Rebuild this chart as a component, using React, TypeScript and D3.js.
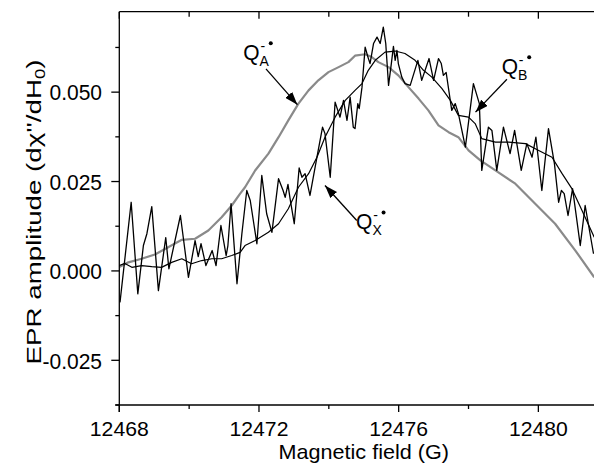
import React from 'react';
import * as d3 from 'd3';

// ---- data ----
const grayField = [12468.00,12468.26,12468.64,12469.02,12469.40,12469.79,12470.17,12470.55,12470.93,12471.22,12471.46,12471.60,12471.89,12472.27,12472.56,12472.84,12473.13,12473.42,12473.70,12473.99,12474.28,12474.56,12474.75,12475.04,12475.23,12475.42,12475.71,12475.99,12476.28,12476.57,12476.85,12477.14,12477.43,12477.71,12478.00,12478.34,12478.77,12479.34,12479.91,12480.48,12481.06,12481.60];
const grayAmp = [0.0011,0.0024,0.0034,0.0046,0.0066,0.0087,0.0090,0.0113,0.0150,0.0183,0.0216,0.0234,0.0281,0.0328,0.0374,0.0421,0.0468,0.0505,0.0533,0.0556,0.0570,0.0584,0.0602,0.0606,0.0598,0.0584,0.0570,0.0547,0.0514,0.0482,0.0449,0.0407,0.0388,0.0374,0.0337,0.0309,0.0281,0.0244,0.0188,0.0132,0.0057,-0.0018];

const smoothField = [12468.00,12468.16,12468.36,12468.64,12468.93,12469.21,12469.50,12469.79,12470.07,12470.36,12470.65,12470.93,12471.22,12471.46,12471.60,12471.89,12472.27,12472.56,12472.84,12473.13,12473.42,12473.66,12473.89,12474.18,12474.47,12474.75,12474.95,12475.13,12475.33,12475.61,12475.90,12476.18,12476.47,12476.71,12476.95,12477.24,12477.48,12477.71,12478.00,12478.19,12478.38,12478.77,12479.15,12479.63,12480.01,12480.39,12480.68,12480.96,12481.25,12481.60];
const smoothAmp = [0.0015,0.0021,0.0010,0.0015,0.0012,0.0010,0.0024,0.0034,0.0020,0.0029,0.0034,0.0034,0.0043,0.0052,0.0071,0.0085,0.0108,0.0132,0.0174,0.0234,0.0272,0.0318,0.0374,0.0430,0.0477,0.0505,0.0524,0.0561,0.0589,0.0612,0.0615,0.0608,0.0589,0.0561,0.0542,0.0510,0.0477,0.0435,0.0430,0.0412,0.0370,0.0360,0.0360,0.0356,0.0337,0.0318,0.0272,0.0230,0.0169,0.0094];

const noisyField = [12468.02,12468.34,12468.53,12468.69,12468.79,12468.93,12469.12,12469.33,12469.42,12469.75,12469.98,12470.17,12470.26,12470.34,12470.48,12470.66,12470.77,12470.91,12471.06,12471.11,12471.20,12471.37,12471.51,12471.65,12471.75,12471.94,12472.08,12472.22,12472.37,12472.56,12472.69,12472.75,12472.83,12472.89,12473.01,12473.15,12473.23,12473.32,12473.46,12473.66,12473.82,12473.89,12474.04,12474.18,12474.32,12474.42,12474.52,12474.61,12474.70,12474.75,12474.83,12474.87,12474.95,12475.04,12475.12,12475.18,12475.28,12475.38,12475.47,12475.56,12475.63,12475.71,12475.79,12475.85,12475.90,12475.95,12475.99,12476.09,12476.18,12476.33,12476.55,12476.66,12476.87,12477.00,12477.14,12477.22,12477.28,12477.36,12477.52,12477.62,12477.71,12477.91,12478.14,12478.31,12478.38,12478.57,12478.67,12478.81,12479.00,12479.19,12479.32,12479.51,12479.67,12479.82,12479.93,12480.10,12480.29,12480.46,12480.58,12480.66,12480.74,12480.85,12480.98,12481.20,12481.34,12481.58];
const noisyAmp = [-0.0088,0.0192,-0.0064,0.0071,0.0104,0.0180,-0.0055,0.0093,0.0006,0.0155,-0.0018,0.0085,0.0040,0.0076,0.0015,0.0057,0.0015,0.0127,0.0043,0.0071,0.0188,-0.0036,0.0104,0.0225,0.0197,0.0076,0.0267,0.0160,0.0108,0.0258,0.0225,0.0206,0.0242,0.0202,0.0132,0.0288,0.0262,0.0272,0.0211,0.0318,0.0402,0.0384,0.0262,0.0472,0.0430,0.0477,0.0421,0.0486,0.0402,0.0398,0.0468,0.0454,0.0514,0.0626,0.0598,0.0580,0.0636,0.0654,0.0636,0.0682,0.0636,0.0519,0.0580,0.0628,0.0589,0.0617,0.0580,0.0542,0.0524,0.0519,0.0589,0.0533,0.0594,0.0533,0.0594,0.0580,0.0547,0.0555,0.0449,0.0468,0.0440,0.0346,0.0524,0.0468,0.0281,0.0402,0.0393,0.0281,0.0402,0.0328,0.0393,0.0281,0.0356,0.0318,0.0374,0.0225,0.0398,0.0300,0.0192,0.0225,0.0216,0.0155,0.0230,0.0071,0.0183,0.0048];

const xMajorTicks = [12468, 12472, 12476, 12480];
const xMinorTicks = [12470, 12474, 12478];
const yMajorTicks = [-0.025, 0, 0.025, 0.05];
const yMajorLabels = ['-0.025', '0.000', '0.025', '0.050'];
const yMinorTicks = [-0.0375, -0.0125, 0.0125, 0.0375, 0.0625];

// annotation anchors (field, amplitude)
const labels = [
  { sub: 'A', text: [12471.55, 0.0589], from: [12472.2, 0.0565], to: [12473.1, 0.0465] },
  { sub: 'B', text: [12478.95, 0.0550], from: [12479.1, 0.0536], to: [12478.2, 0.0444] },
  { sub: 'X', text: [12474.78, 0.0116], from: [12474.80, 0.0141], to: [12473.89, 0.0239] },
];

const W = 594, H = 463;
const FONT = "'Liberation Sans', Arial, Helvetica, sans-serif";
const FS = 21;
const SY = 1.08;

export default function App() {
  const x = d3.scaleLinear().domain([12468, 12482]).range([119.3, 608.2]);
  const y = d3.scaleLinear().domain([-0.0375, 0.0725]).range([405, 11.7]);
  const line = (fs: number[], as: number[]) =>
    d3.line<number>().x((_, i) => x(fs[i])).y((_, i) => y(as[i]))(fs.map((_, i) => i)) || '';

  const x0 = x.range()[0];
  const yb = y.range()[0];
  const yt = y.range()[1];

  return (
    <svg width={W} height={H} style={{ position: 'absolute', left: 0, top: 0, background: '#fff' }}
      fontFamily={FONT}>
      <rect x={0} y={0} width={W} height={H} fill="#fff" />
      {/* curves */}
      <path d={line(grayField, grayAmp)} fill="none" stroke="#8a8a8a" strokeWidth={2.2} strokeLinejoin="round" />
      <path d={line(smoothField, smoothAmp)} fill="none" stroke="#000" strokeWidth={1.2} strokeLinejoin="round" />
      <path d={line(noisyField, noisyAmp)} fill="none" stroke="#000" strokeWidth={1.3} strokeLinejoin="round" />

      {/* axes frame */}
      <line x1={x0} x2={x0} y1={yt} y2={yb + 7} stroke="#000" strokeWidth={1.3} />
      <line x1={x0 - 4} x2={W} y1={yb} y2={yb} stroke="#000" strokeWidth={1.3} />
      <line x1={x0} x2={W} y1={yt} y2={yt} stroke="#000" strokeWidth={1.3} />

      {/* bottom / top ticks */}
      {xMajorTicks.map((t) => (
        <g key={'xb' + t}>
          <line x1={x(t)} x2={x(t)} y1={yb} y2={yb + 7} stroke="#000" strokeWidth={1.3} />
          <line x1={x(t)} x2={x(t)} y1={yt} y2={yt + 7} stroke="#000" strokeWidth={1.3} />
          <text transform={`translate(${x(t)},${435.8}) scale(1.06,1)`} textAnchor="middle" fontSize={20}>{t}</text>
        </g>
      ))}
      {xMinorTicks.map((t) => (
        <g key={'xm' + t}>
          <line x1={x(t)} x2={x(t)} y1={yb} y2={yb + 4} stroke="#000" strokeWidth={1.3} />
          <line x1={x(t)} x2={x(t)} y1={yt} y2={yt + 5} stroke="#000" strokeWidth={1.3} />
        </g>
      ))}
      {/* left ticks */}
      {yMajorTicks.map((t, i) => (
        <g key={'yb' + t}>
          <line x1={x0 - 8} x2={x0} y1={y(t)} y2={y(t)} stroke="#000" strokeWidth={1.3} />
          <text transform={`translate(${102},${y(t) + 8.2}) scale(1,${SY})`} textAnchor="end" fontSize={FS}>{yMajorLabels[i]}</text>
        </g>
      ))}
      {yMinorTicks.map((t) => (
        <line key={'ym' + t} x1={x0 - 4} x2={x0} y1={y(t)} y2={y(t)} stroke="#000" strokeWidth={1.3} />
      ))}

      {/* axis titles */}
      <text transform={`translate(${(x(12468) + x(12482)) / 2},${458.6}) scale(1.08,1)`} textAnchor="middle" fontSize={20}>Magnetic field (G)</text>
      <text transform={`translate(${41},${212}) rotate(-90) scale(1.32,1)`} textAnchor="middle" fontSize={FS}>
        EPR amplitude (dχ''/dH<tspan fontSize={14} dy={4}>0</tspan><tspan dy={-4}>)</tspan>
      </text>

      {/* annotations */}
      <defs>
        <marker id="ah" viewBox="0 0 13 9" refX={13} refY={4.5} markerWidth={13} markerHeight={9} markerUnits="userSpaceOnUse" orient="auto">
          <path d="M0,0 L13,4.5 L0,9 Z" fill="#000" />
        </marker>
      </defs>
      {labels.map((l) => (
        <g key={l.sub}>
          <line x1={x(l.from[0])} y1={y(l.from[1])} x2={x(l.to[0])} y2={y(l.to[1])} stroke="#000" strokeWidth={1.3} markerEnd="url(#ah)" />
          <g transform={`translate(${x(l.text[0])},${y(l.text[1])})`}>
            <text transform={`scale(1,${SY})`} fontSize={FS}>
              Q<tspan fontSize={14} dy={5}>{l.sub}</tspan><tspan fontSize={14} dx={-8.5} dy={-14}>-</tspan>
            </text>
            <circle cx={27.5} cy={-17} r={2} fill="#000" />
          </g>
        </g>
      ))}
    </svg>
  );
}
